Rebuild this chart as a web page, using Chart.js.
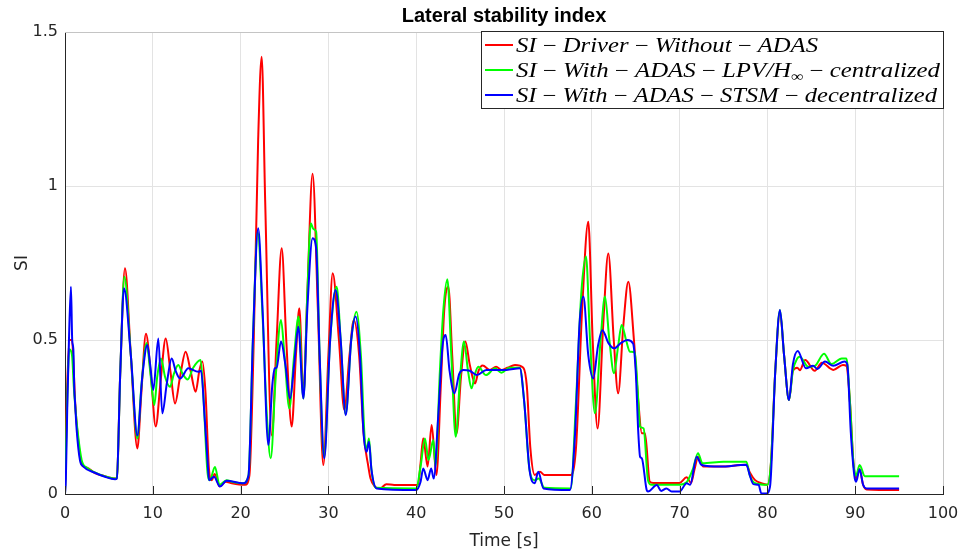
<!DOCTYPE html>
<html>
<head>
<meta charset="utf-8">
<script src="https://cdn.jsdelivr.net/npm/chart.js@4.4.1/dist/chart.umd.min.js"></script>
<style>
  html, body { margin: 0; padding: 0; background: #fff; }
  #wrap { width: 961px; height: 554px; }
</style>
</head>
<body>
<div id="wrap"><canvas id="c" width="961" height="554"></canvas></div>
<script>
// texts
const chartTitle = 'Lateral stability index';
const xLabel = 'Time [s]';
const yLabel = 'SI';
const xTicks = [0, 10, 20, 30, 40, 50, 60, 70, 80, 90, 100];
const yTicks = [0, 0.5, 1, 1.5];
const seriesNames = [
  'SI − Driver − Without − ADAS',
  'SI − With − ADAS − LPV/H_∞ − centralized',
  'SI − With − ADAS − STSM − decentralized'
];
const seriesColors = ['#ff0000', '#00ff00', '#0000ff'];

// [time (s), SI]
const driverSI = [[0,0],[0.2,0.3],[0.5,0.5],[0.8,0.5],[1.0,0.4],[1.15,0.3],[1.45,0.19],[1.9,0.095],[2.5,0.085],[3.4,0.068],[4.5,0.058],[5.7,0.05],[5.9,0.05],[6.3,0.4],[6.83,0.733],[7.5,0.45],[8.24,0.148],[8.7,0.33],[9.22,0.52],[9.8,0.38],[10.33,0.219],[10.9,0.37],[11.47,0.505],[12.0,0.4],[12.53,0.294],[13.1,0.38],[13.74,0.462],[14.3,0.4],[14.88,0.332],[15.3,0.4],[15.64,0.43],[16.0,0.33],[16.4,0.08],[16.7,0.045],[17.05,0.065],[17.6,0.025],[18.3,0.04],[19.0,0.035],[20.5,0.03],[21.0,0.06],[21.5,0.5],[22.0,1.15],[22.4,1.42],[22.8,0.95],[23.55,0.19],[24.1,0.5],[24.68,0.798],[25.2,0.5],[25.82,0.219],[26.3,0.45],[26.69,0.603],[27.15,0.32],[27.6,0.65],[28.2,1.04],[28.8,0.6],[29.42,0.094],[30.0,0.45],[30.49,0.717],[31.2,0.5],[31.81,0.273],[32.4,0.45],[32.9,0.565],[33.5,0.45],[34.0,0.2],[34.55,0.089],[34.8,0.05],[35.3,0.024],[35.9,0.018],[36.6,0.032],[37.5,0.029],[40.2,0.029],[40.5,0.1],[40.8,0.181],[41.3,0.089],[41.76,0.224],[42.3,0.062],[42.8,0.35],[43.2,0.6],[43.66,0.673],[44.1,0.45],[44.6,0.197],[45.1,0.38],[45.6,0.495],[46.1,0.42],[46.7,0.359],[47.1,0.4],[47.57,0.417],[48.4,0.403],[49.1,0.413],[49.7,0.403],[50.4,0.41],[51.25,0.419],[52.2,0.41],[52.6,0.35],[53.0,0.15],[53.5,0.062],[54.1,0.072],[54.6,0.062],[57.6,0.062],[58.2,0.15],[58.9,0.6],[59.6,0.884],[60.1,0.5],[60.66,0.213],[61.3,0.55],[61.88,0.781],[62.5,0.5],[63.0,0.327],[63.6,0.55],[64.16,0.689],[64.8,0.5],[65.3,0.3],[65.7,0.197],[66.06,0.197],[66.6,0.04],[67.0,0.036],[70.0,0.036],[70.8,0.054],[71.3,0.036],[71.7,0.08],[72.1,0.12],[72.7,0.089],[74.6,0.089],[77.6,0.095],[78.0,0.07],[78.6,0.045],[79.3,0.035],[80.0,0.03],[80.4,0.1],[80.9,0.4],[81.43,0.59],[81.9,0.45],[82.46,0.305],[82.9,0.4],[83.4,0.41],[83.7,0.402],[84.3,0.435],[85.4,0.4],[86.2,0.426],[87.5,0.403],[88.6,0.419],[89.0,0.416],[89.4,0.3],[89.8,0.1],[90.1,0.051],[90.5,0.08],[90.9,0.03],[91.3,0.015],[95.0,0.013]];

const lpvSI = [[0,0],[0.2,0.25],[0.5,0.47],[0.8,0.45],[1.0,0.35],[1.15,0.29],[1.45,0.2],[1.9,0.11],[2.5,0.085],[3.4,0.07],[4.5,0.058],[5.7,0.05],[5.9,0.05],[6.3,0.4],[6.76,0.705],[7.5,0.45],[8.24,0.18],[8.7,0.35],[9.3,0.49],[9.7,0.4],[10.17,0.289],[10.5,0.38],[10.93,0.44],[11.4,0.38],[11.96,0.348],[12.4,0.39],[12.9,0.419],[13.4,0.39],[13.97,0.372],[14.6,0.41],[15.45,0.435],[15.8,0.3],[16.2,0.08],[16.5,0.045],[17.08,0.088],[17.6,0.03],[18.4,0.045],[19.0,0.04],[20.3,0.035],[20.9,0.06],[21.4,0.5],[21.95,0.85],[22.5,0.58],[23.0,0.25],[23.43,0.116],[24.0,0.38],[24.6,0.565],[25.0,0.45],[25.55,0.278],[26.1,0.45],[26.6,0.576],[27.15,0.31],[27.6,0.65],[28.0,0.879],[28.3,0.86],[28.6,0.852],[29.0,0.45],[29.5,0.12],[30.2,0.5],[30.94,0.673],[31.4,0.5],[31.97,0.26],[32.6,0.5],[33.2,0.592],[33.7,0.45],[34.2,0.16],[34.4,0.15],[34.62,0.18],[34.9,0.08],[35.4,0.02],[40.0,0.018],[40.5,0.09],[41.0,0.18],[41.4,0.11],[41.95,0.175],[42.2,0.09],[42.7,0.4],[43.1,0.6],[43.55,0.697],[44.0,0.45],[44.5,0.186],[45.0,0.38],[45.44,0.495],[45.9,0.4],[46.3,0.343],[46.7,0.39],[47.07,0.413],[47.95,0.386],[48.97,0.408],[49.7,0.394],[50.6,0.41],[51.8,0.41],[52.3,0.3],[52.9,0.08],[53.5,0.045],[53.95,0.05],[54.6,0.02],[57.6,0.018],[58.2,0.3],[58.8,0.65],[59.34,0.771],[59.8,0.5],[60.36,0.262],[61.0,0.5],[61.5,0.641],[62.0,0.5],[62.53,0.392],[63.0,0.48],[63.4,0.549],[63.9,0.5],[64.35,0.462],[64.9,0.46],[65.2,0.35],[65.5,0.219],[65.9,0.213],[66.4,0.045],[66.8,0.03],[70.0,0.03],[70.8,0.038],[71.5,0.08],[72.1,0.132],[72.6,0.1],[75.0,0.105],[77.6,0.105],[78.0,0.06],[78.6,0.035],[80.0,0.03],[80.4,0.1],[80.9,0.4],[81.43,0.597],[81.9,0.45],[82.46,0.305],[82.9,0.4],[83.4,0.44],[83.7,0.446],[84.66,0.413],[85.4,0.416],[86.45,0.455],[87.3,0.422],[88.46,0.44],[89.0,0.44],[89.4,0.3],[89.8,0.1],[90.1,0.06],[90.5,0.094],[91.1,0.058],[95.0,0.058]];

const stsmSI = [[0,0],[0.1,0.05],[0.25,0.27],[0.45,0.5],[0.68,0.673],[0.82,0.5],[0.95,0.47],[1.06,0.34],[1.14,0.3],[1.33,0.208],[1.7,0.11],[2.1,0.089],[3.4,0.069],[4.55,0.056],[5.7,0.048],[5.9,0.05],[6.3,0.4],[6.72,0.668],[7.5,0.45],[8.24,0.19],[8.8,0.38],[9.38,0.484],[9.7,0.42],[10.06,0.338],[10.63,0.505],[11.08,0.262],[11.6,0.36],[12.15,0.44],[12.6,0.4],[13.1,0.375],[14.05,0.408],[15.18,0.397],[15.5,0.4],[15.9,0.25],[16.25,0.1],[16.4,0.045],[16.97,0.056],[17.65,0.024],[18.4,0.043],[20.3,0.035],[20.9,0.06],[21.4,0.5],[22.0,0.863],[22.5,0.6],[23.16,0.159],[23.6,0.35],[23.9,0.408],[24.1,0.41],[24.6,0.495],[25.1,0.42],[25.63,0.31],[26.1,0.42],[26.57,0.543],[27.15,0.31],[27.6,0.6],[28.2,0.83],[28.6,0.8],[29.0,0.45],[29.53,0.116],[30.2,0.5],[30.82,0.662],[31.4,0.5],[31.97,0.256],[32.6,0.5],[33.1,0.576],[33.6,0.45],[34.0,0.2],[34.35,0.137],[34.62,0.17],[34.9,0.08],[35.5,0.018],[40.0,0.013],[40.5,0.04],[40.8,0.083],[41.3,0.045],[41.7,0.083],[42.0,0.05],[42.5,0.25],[43.0,0.48],[43.36,0.516],[43.8,0.4],[44.35,0.327],[44.9,0.39],[45.37,0.403],[46.1,0.4],[46.9,0.386],[48.0,0.403],[50.3,0.403],[51.8,0.408],[52.3,0.3],[52.9,0.08],[53.5,0.035],[53.9,0.072],[54.5,0.018],[57.5,0.013],[58.1,0.2],[58.6,0.55],[59.04,0.641],[59.6,0.45],[60.17,0.375],[60.7,0.48],[61.2,0.532],[61.9,0.49],[62.53,0.473],[63.3,0.49],[64.05,0.5],[64.7,0.489],[65.0,0.4],[65.3,0.197],[65.5,0.121],[65.7,0.116],[66.25,0.013],[66.4,0.008],[67.4,0.029],[67.9,0.01],[68.5,0.018],[69.1,0.008],[70.0,0.008],[70.8,0.035],[71.2,0.03],[71.95,0.121],[72.5,0.094],[74.6,0.089],[77.6,0.095],[78.0,0.06],[78.4,0.032],[79.0,0.03],[79.3,0.002],[79.9,0.002],[80.3,0.024],[80.9,0.4],[81.43,0.597],[81.9,0.45],[82.46,0.305],[82.9,0.42],[83.45,0.464],[84.4,0.408],[85.2,0.416],[85.7,0.406],[86.56,0.43],[87.5,0.416],[88.8,0.43],[89.1,0.42],[89.5,0.2],[89.9,0.06],[90.1,0.04],[90.5,0.08],[90.9,0.03],[91.3,0.018],[95.0,0.018]];

const seriesData = [driverSI, lpvSI, stsmSI];

const AXIS_COLOR = '#262626';
const SANS = '"DejaVu Sans", sans-serif';

// legend row: words in italic (LaTeX math look), minus upright, "_" starts a subscript
function drawLegendRow(ctx, label, x, baseline, targetW) {
  const italic = 'italic 20px "Liberation Serif", serif';
  const upright = '20px "Liberation Serif", serif';
  const small = '14px "Liberation Serif", serif';
  const segs = [];
  label.split(' − ').forEach((p, i) => {
    if (i > 0) segs.push({ t: ' − ', f: upright, dy: 0 });
    const m = p.split('_');
    segs.push({ t: m[0], f: italic, dy: 0 });
    if (m[1]) segs.push({ t: m[1], f: small, dy: 4 });
  });
  let total = 0;
  segs.forEach(s => { ctx.font = s.f; s.w = ctx.measureText(s.t).width; total += s.w; });
  const sx = targetW / total;
  ctx.save();
  ctx.translate(x, baseline);
  ctx.scale(sx, 1);
  ctx.fillStyle = '#000';
  ctx.textBaseline = 'alphabetic';
  ctx.textAlign = 'left';
  let cx = 0;
  segs.forEach(s => { ctx.font = s.f; ctx.fillText(s.t, cx, s.dy); cx += s.w; });
  ctx.restore();
}

const decorPlugin = {
  id: 'decor',
  afterDraw(chart) {
    const { ctx, chartArea: a, scales: { x } } = chart;
    ctx.save();
    // top / right box lines
    ctx.strokeStyle = '#c4c4c4';
    ctx.lineWidth = 1;
    ctx.beginPath();
    ctx.moveTo(a.left, a.top + 0.5);
    ctx.lineTo(a.right + 0.5, a.top + 0.5);
    ctx.lineTo(a.right + 0.5, a.bottom);
    ctx.stroke();
    // inward ticks on the time axis
    ctx.strokeStyle = AXIS_COLOR;
    ctx.beginPath();
    xTicks.forEach(v => {
      const px = Math.round(x.getPixelForValue(v)) + 0.5;
      ctx.moveTo(px, a.bottom);
      ctx.lineTo(px, a.bottom - 8);
    });
    ctx.stroke();

    // title
    ctx.fillStyle = '#000';
    ctx.font = 'bold 20px "Liberation Sans", Arial, sans-serif';
    ctx.textAlign = 'center';
    ctx.textBaseline = 'middle';
    ctx.fillText(chartTitle, (a.left + a.right) / 2, 16);

    // legend
    const bx = 481.5, by = 31.5, bw = a.right - 481, bh = 77;
    ctx.fillStyle = '#fff';
    ctx.fillRect(bx, by, bw, bh);
    ctx.strokeStyle = AXIS_COLOR;
    ctx.strokeRect(bx, by, bw, bh);
    const rowY = [45, 70, 95];
    const rowW = [302, 424, 421];
    seriesNames.forEach((name, i) => {
      ctx.strokeStyle = seriesColors[i];
      ctx.lineWidth = 2;
      ctx.beginPath();
      ctx.moveTo(485, rowY[i]);
      ctx.lineTo(513, rowY[i]);
      ctx.stroke();
      drawLegendRow(ctx, name, 516, rowY[i] + 6.5, rowW[i]);
    });
    ctx.restore();
  }
};

new Chart(document.getElementById('c'), {
  type: 'line',
  data: {
    datasets: seriesData.map((d, i) => ({
      label: seriesNames[i],
      data: d.map(p => ({ x: p[0], y: p[1] })),
      borderColor: seriesColors[i],
      borderWidth: 2,
      pointRadius: 0,
      fill: false,
      cubicInterpolationMode: 'monotone',
      order: 2 - i
    }))
  },
  options: {
    responsive: false,
    animation: false,
    devicePixelRatio: 1,
    layout: { padding: { top: 32, right: 18, left: 0, bottom: 0 } },
    plugins: { legend: { display: false }, tooltip: { enabled: false }, title: { display: false } },
    scales: {
      x: {
        type: 'linear',
        min: 0,
        max: 100,
        afterBuildTicks: s => { s.ticks = xTicks.map(v => ({ value: v })); },
        afterFit: s => { s.height = 60; s.paddingLeft = 0; s.paddingRight = 0; },
        ticks: { color: AXIS_COLOR, font: { family: SANS, size: 16 }, padding: 10, maxRotation: 0, autoSkip: false, callback: v => String(v) },
        grid: { color: '#e3e3e3', drawTicks: false },
        border: { color: AXIS_COLOR, width: 1 },
        title: { display: true, text: xLabel, color: AXIS_COLOR, font: { family: SANS, size: 17 }, padding: { top: 0, bottom: 2 } }
      },
      y: {
        type: 'linear',
        min: 0,
        max: 1.5,
        afterBuildTicks: s => { s.ticks = yTicks.map(v => ({ value: v })); },
        afterFit: s => { s.width = 65; s.paddingTop = 0; s.paddingBottom = 0; },
        ticks: { color: AXIS_COLOR, font: { family: SANS, size: 16 }, padding: 7, callback: v => String(v) },
        grid: { color: '#e3e3e3', drawTicks: false },
        border: { color: AXIS_COLOR, width: 1 },
        title: { display: true, text: yLabel, color: AXIS_COLOR, font: { family: SANS, size: 17 }, padding: { top: 12, bottom: 0 } }
      }
    }
  },
  plugins: [decorPlugin]
});
</script>
</body>
</html>
